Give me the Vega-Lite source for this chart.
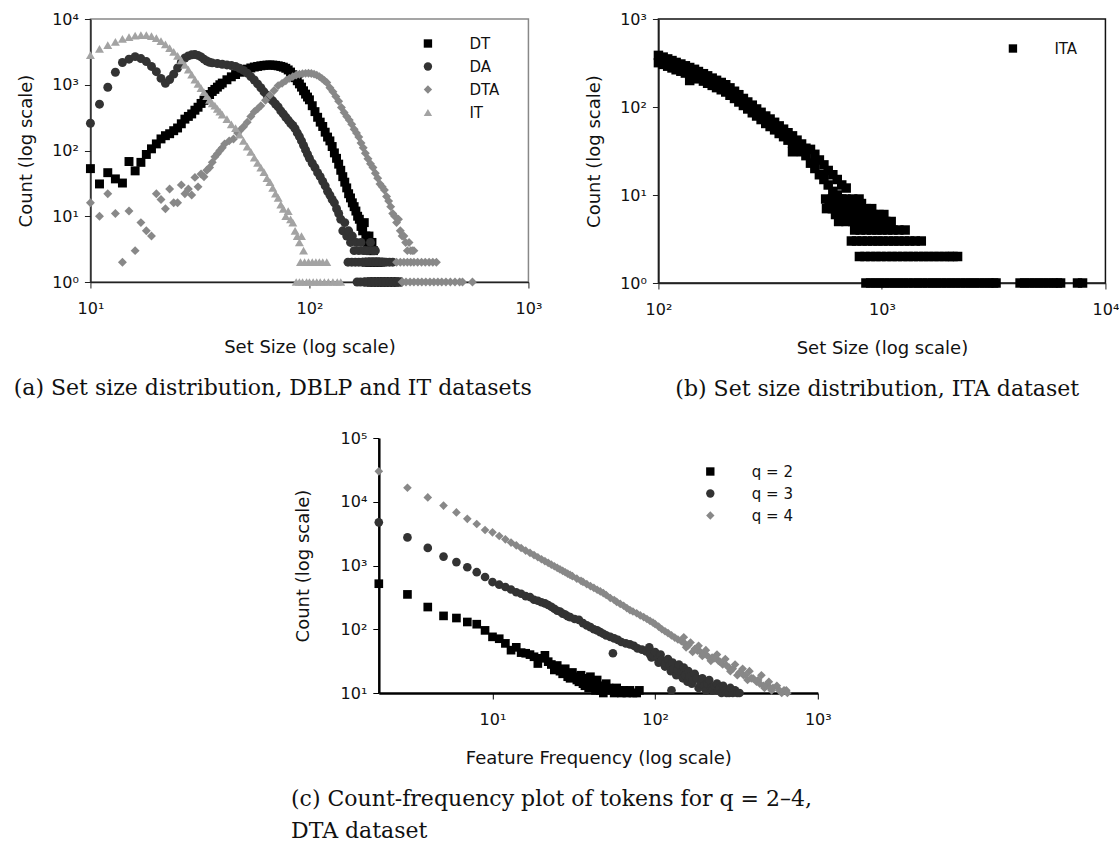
{
  "$schema": "https://vega.github.io/schema/vega-lite/v6.json",
  "padding": {"left": 12, "top": 10, "right": 0, "bottom": 0},
  "config": {
    "font": "DejaVu Sans",
    "view": {"stroke": null},
    "axis": {"grid": false, "labelFont": "DejaVu Sans", "labelFontSize": 16, "labelColor": "#111", "titleFont": "DejaVu Sans", "titleFontSize": 18, "titleFontWeight": "normal", "titleColor": "#111", "domainColor": "#222", "domainWidth": 1.5, "tickColor": "#222", "tickSize": 6, "labelFlush": false, "labelOverlap": false},
    "axisX": {"labelPadding": 12, "titlePadding": 22},
    "axisY": {"labelPadding": 6, "titlePadding": 16},
    "legend": {"labelFont": "DejaVu Sans", "labelFontSize": 15, "labelColor": "#111", "symbolSize": 70, "padding": 0, "rowPadding": 7, "labelOffset": 34, "symbolStrokeWidth": 0},
    "title": {"font": "DejaVu Serif", "fontSize": 22, "fontWeight": "normal", "color": "#111", "orient": "bottom", "offset": 22}
  },
  "datasets": {
    "dsA": [
      {"s":"DT","x":10,"c":53},{"s":"DT","x":11,"c":31},{"s":"DT","x":12,"c":46},{"s":"DT","x":13,"c":37},{"s":"DT","x":14,"c":32},{"s":"DT","x":15,"c":68},{"s":"DT","x":16,"c":49},{"s":"DT","x":17,"c":66},{"s":"DT","x":18,"c":87},{"s":"DT","x":19,"c":106},{"s":"DT","x":20,"c":126},{"s":"DT","x":21,"c":150},{"s":"DT","x":22,"c":168},{"s":"DT","x":23,"c":180},{"s":"DT","x":24,"c":200},{"s":"DT","x":25,"c":220},{"s":"DT","x":26,"c":255},{"s":"DT","x":27,"c":300},{"s":"DT","x":28,"c":330},{"s":"DT","x":29,"c":360},{"s":"DT","x":30,"c":410},{"s":"DT","x":31,"c":455},{"s":"DT","x":32,"c":520},{"s":"DT","x":33,"c":580},{"s":"DT","x":34,"c":640},{"s":"DT","x":35,"c":710},{"s":"DT","x":36,"c":790},{"s":"DT","x":37,"c":850},{"s":"DT","x":38,"c":920},{"s":"DT","x":39,"c":1000},{"s":"DT","x":40,"c":1060},{"s":"DT","x":42,"c":1190},{"s":"DT","x":44,"c":1320},{"s":"DT","x":46,"c":1430},{"s":"DT","x":48,"c":1550},{"s":"DT","x":50,"c":1650},{"s":"DT","x":52,"c":1730},{"s":"DT","x":54,"c":1800},{"s":"DT","x":56,"c":1860},{"s":"DT","x":58,"c":1900},{"s":"DT","x":60,"c":1940},{"s":"DT","x":62,"c":1970},{"s":"DT","x":64,"c":1990},{"s":"DT","x":66,"c":2000},{"s":"DT","x":68,"c":1990},{"s":"DT","x":70,"c":1970},{"s":"DT","x":72,"c":1940},{"s":"DT","x":74,"c":1900},{"s":"DT","x":76,"c":1850},{"s":"DT","x":78,"c":1780},{"s":"DT","x":80,"c":1680},{"s":"DT","x":82,"c":1560},{"s":"DT","x":84,"c":1420},{"s":"DT","x":86,"c":1280},{"s":"DT","x":88,"c":1150},{"s":"DT","x":90,"c":1030},{"s":"DT","x":92,"c":920},{"s":"DT","x":94,"c":810},{"s":"DT","x":96,"c":720},{"s":"DT","x":98,"c":650},{"s":"DT","x":100,"c":590},{"s":"DT","x":103,"c":480},{"s":"DT","x":106,"c":390},{"s":"DT","x":109,"c":320},{"s":"DT","x":112,"c":270},{"s":"DT","x":115,"c":232},{"s":"DT","x":118,"c":190},{"s":"DT","x":121,"c":160},{"s":"DT","x":124,"c":140},{"s":"DT","x":127,"c":115},{"s":"DT","x":130,"c":92},{"s":"DT","x":133,"c":76},{"s":"DT","x":136,"c":62},{"s":"DT","x":139,"c":50},{"s":"DT","x":142,"c":40},{"s":"DT","x":145,"c":33},{"s":"DT","x":148,"c":27},{"s":"DT","x":151,"c":22},{"s":"DT","x":154,"c":19},{"s":"DT","x":157,"c":16},{"s":"DT","x":160,"c":14},{"s":"DT","x":163,"c":12},{"s":"DT","x":166,"c":10},{"s":"DT","x":169,"c":9},{"s":"DT","x":172,"c":7},{"s":"DT","x":175,"c":6},{"s":"DT","x":178,"c":8},{"s":"DT","x":181,"c":5},{"s":"DT","x":184,"c":4},{"s":"DT","x":187,"c":5},{"s":"DT","x":190,"c":3},{"s":"DT","x":193,"c":4},{"s":"DT","x":196,"c":3},{"s":"DT","x":182,"c":2},{"s":"DT","x":188,"c":2},{"s":"DT","x":194,"c":2},{"s":"DT","x":200,"c":2},{"s":"DT","x":206,"c":2},{"s":"DT","x":212,"c":2},{"s":"DT","x":185,"c":1},{"s":"DT","x":192,"c":1},{"s":"DT","x":199,"c":1},{"s":"DT","x":206,"c":1},{"s":"DT","x":213,"c":1},{"s":"DT","x":220,"c":1},{"s":"DT","x":228,"c":1},{"s":"DT","x":236,"c":1},{"s":"DT","x":245,"c":1},{"s":"DT","x":254,"c":1},
      {"s":"DA","x":10,"c":260},{"s":"DA","x":11,"c":506},{"s":"DA","x":12,"c":915},{"s":"DA","x":13,"c":1550},{"s":"DA","x":14,"c":2180},{"s":"DA","x":15,"c":2450},{"s":"DA","x":16,"c":2680},{"s":"DA","x":17,"c":2500},{"s":"DA","x":18,"c":2250},{"s":"DA","x":19,"c":1900},{"s":"DA","x":20,"c":1580},{"s":"DA","x":21,"c":1250},{"s":"DA","x":22,"c":1050},{"s":"DA","x":23,"c":1200},{"s":"DA","x":24,"c":1450},{"s":"DA","x":25,"c":1800},{"s":"DA","x":26,"c":2200},{"s":"DA","x":27,"c":2550},{"s":"DA","x":28,"c":2750},{"s":"DA","x":29,"c":2850},{"s":"DA","x":30,"c":2880},{"s":"DA","x":31,"c":2800},{"s":"DA","x":32,"c":2650},{"s":"DA","x":33,"c":2450},{"s":"DA","x":34,"c":2300},{"s":"DA","x":35,"c":2200},{"s":"DA","x":36,"c":2150},{"s":"DA","x":38,"c":2100},{"s":"DA","x":40,"c":2050},{"s":"DA","x":42,"c":2000},{"s":"DA","x":44,"c":1960},{"s":"DA","x":46,"c":1900},{"s":"DA","x":48,"c":1780},{"s":"DA","x":50,"c":1650},{"s":"DA","x":52,"c":1500},{"s":"DA","x":54,"c":1330},{"s":"DA","x":56,"c":1180},{"s":"DA","x":58,"c":1030},{"s":"DA","x":60,"c":900},{"s":"DA","x":62,"c":780},{"s":"DA","x":64,"c":690},{"s":"DA","x":66,"c":620},{"s":"DA","x":68,"c":570},{"s":"DA","x":70,"c":510},{"s":"DA","x":72,"c":460},{"s":"DA","x":74,"c":400},{"s":"DA","x":76,"c":360},{"s":"DA","x":78,"c":320},{"s":"DA","x":80,"c":290},{"s":"DA","x":82,"c":260},{"s":"DA","x":84,"c":240},{"s":"DA","x":86,"c":215},{"s":"DA","x":88,"c":185},{"s":"DA","x":90,"c":163},{"s":"DA","x":92,"c":140},{"s":"DA","x":94,"c":120},{"s":"DA","x":96,"c":102},{"s":"DA","x":98,"c":88},{"s":"DA","x":100,"c":76},{"s":"DA","x":103,"c":64},{"s":"DA","x":106,"c":55},{"s":"DA","x":109,"c":46},{"s":"DA","x":112,"c":40},{"s":"DA","x":115,"c":34},{"s":"DA","x":118,"c":29},{"s":"DA","x":121,"c":24},{"s":"DA","x":124,"c":21},{"s":"DA","x":127,"c":18},{"s":"DA","x":130,"c":16},{"s":"DA","x":133,"c":13},{"s":"DA","x":136,"c":11},{"s":"DA","x":139,"c":9},{"s":"DA","x":142,"c":6},{"s":"DA","x":145,"c":8},{"s":"DA","x":148,"c":5},{"s":"DA","x":151,"c":6},{"s":"DA","x":154,"c":4},{"s":"DA","x":157,"c":5},{"s":"DA","x":160,"c":3},{"s":"DA","x":164,"c":4},{"s":"DA","x":168,"c":3},{"s":"DA","x":172,"c":4},{"s":"DA","x":176,"c":3},{"s":"DA","x":180,"c":3},{"s":"DA","x":185,"c":3},{"s":"DA","x":190,"c":4},{"s":"DA","x":195,"c":3},{"s":"DA","x":200,"c":3},{"s":"DA","x":150,"c":2},{"s":"DA","x":156,"c":2},{"s":"DA","x":162,"c":2},{"s":"DA","x":168,"c":2},{"s":"DA","x":174,"c":2},{"s":"DA","x":180,"c":2},{"s":"DA","x":187,"c":2},{"s":"DA","x":194,"c":2},{"s":"DA","x":201,"c":2},{"s":"DA","x":208,"c":2},{"s":"DA","x":216,"c":2},{"s":"DA","x":224,"c":2},{"s":"DA","x":232,"c":2},{"s":"DA","x":240,"c":2},{"s":"DA","x":165,"c":1},{"s":"DA","x":171,"c":1},{"s":"DA","x":178,"c":1},{"s":"DA","x":185,"c":1},{"s":"DA","x":192,"c":1},{"s":"DA","x":199,"c":1},{"s":"DA","x":207,"c":1},{"s":"DA","x":215,"c":1},{"s":"DA","x":223,"c":1},{"s":"DA","x":232,"c":1},{"s":"DA","x":241,"c":1},{"s":"DA","x":250,"c":1},{"s":"DA","x":260,"c":1},
      {"s":"DTA","x":10,"c":16},{"s":"DTA","x":11,"c":10},{"s":"DTA","x":12,"c":22},{"s":"DTA","x":13,"c":11},{"s":"DTA","x":14,"c":2},{"s":"DTA","x":15,"c":12},{"s":"DTA","x":16,"c":3},{"s":"DTA","x":17,"c":8},{"s":"DTA","x":18,"c":6},{"s":"DTA","x":19,"c":5},{"s":"DTA","x":20,"c":22},{"s":"DTA","x":21,"c":18},{"s":"DTA","x":22,"c":13},{"s":"DTA","x":23,"c":26},{"s":"DTA","x":24,"c":16},{"s":"DTA","x":25,"c":16},{"s":"DTA","x":26,"c":30},{"s":"DTA","x":27,"c":22},{"s":"DTA","x":28,"c":26},{"s":"DTA","x":29,"c":21},{"s":"DTA","x":30,"c":39},{"s":"DTA","x":31,"c":28},{"s":"DTA","x":32,"c":44},{"s":"DTA","x":33,"c":40},{"s":"DTA","x":34,"c":50},{"s":"DTA","x":35,"c":55},{"s":"DTA","x":36,"c":66},{"s":"DTA","x":37,"c":80},{"s":"DTA","x":38,"c":89},{"s":"DTA","x":39,"c":100},{"s":"DTA","x":40,"c":110},{"s":"DTA","x":41,"c":126},{"s":"DTA","x":43,"c":140},{"s":"DTA","x":45,"c":150},{"s":"DTA","x":47,"c":185},{"s":"DTA","x":48,"c":200},{"s":"DTA","x":50,"c":230},{"s":"DTA","x":52,"c":270},{"s":"DTA","x":54,"c":330},{"s":"DTA","x":56,"c":390},{"s":"DTA","x":58,"c":430},{"s":"DTA","x":60,"c":480},{"s":"DTA","x":63,"c":580},{"s":"DTA","x":66,"c":690},{"s":"DTA","x":69,"c":820},{"s":"DTA","x":72,"c":970},{"s":"DTA","x":75,"c":1050},{"s":"DTA","x":78,"c":1150},{"s":"DTA","x":81,"c":1250},{"s":"DTA","x":84,"c":1330},{"s":"DTA","x":87,"c":1400},{"s":"DTA","x":90,"c":1440},{"s":"DTA","x":93,"c":1470},{"s":"DTA","x":96,"c":1490},{"s":"DTA","x":99,"c":1500},{"s":"DTA","x":102,"c":1480},{"s":"DTA","x":105,"c":1450},{"s":"DTA","x":108,"c":1400},{"s":"DTA","x":111,"c":1330},{"s":"DTA","x":114,"c":1250},{"s":"DTA","x":117,"c":1160},{"s":"DTA","x":120,"c":1080},{"s":"DTA","x":124,"c":900},{"s":"DTA","x":128,"c":780},{"s":"DTA","x":132,"c":660},{"s":"DTA","x":136,"c":560},{"s":"DTA","x":140,"c":450},{"s":"DTA","x":144,"c":380},{"s":"DTA","x":148,"c":330},{"s":"DTA","x":152,"c":290},{"s":"DTA","x":156,"c":250},{"s":"DTA","x":160,"c":210},{"s":"DTA","x":164,"c":184},{"s":"DTA","x":168,"c":160},{"s":"DTA","x":172,"c":130},{"s":"DTA","x":176,"c":110},{"s":"DTA","x":180,"c":91},{"s":"DTA","x":185,"c":75},{"s":"DTA","x":190,"c":63},{"s":"DTA","x":195,"c":55},{"s":"DTA","x":200,"c":45},{"s":"DTA","x":205,"c":38},{"s":"DTA","x":210,"c":31},{"s":"DTA","x":215,"c":28},{"s":"DTA","x":220,"c":25},{"s":"DTA","x":225,"c":20},{"s":"DTA","x":230,"c":17},{"s":"DTA","x":235,"c":14},{"s":"DTA","x":240,"c":11},{"s":"DTA","x":245,"c":10},{"s":"DTA","x":250,"c":8},{"s":"DTA","x":255,"c":9},{"s":"DTA","x":260,"c":6},{"s":"DTA","x":265,"c":5},{"s":"DTA","x":270,"c":5},{"s":"DTA","x":275,"c":4},{"s":"DTA","x":280,"c":3},{"s":"DTA","x":285,"c":4},{"s":"DTA","x":290,"c":3},{"s":"DTA","x":295,"c":3},{"s":"DTA","x":300,"c":3},{"s":"DTA","x":250,"c":2},{"s":"DTA","x":260,"c":2},{"s":"DTA","x":270,"c":2},{"s":"DTA","x":280,"c":2},{"s":"DTA","x":290,"c":2},{"s":"DTA","x":300,"c":2},{"s":"DTA","x":312,"c":2},{"s":"DTA","x":325,"c":2},{"s":"DTA","x":338,"c":2},{"s":"DTA","x":352,"c":2},{"s":"DTA","x":366,"c":2},{"s":"DTA","x":380,"c":2},{"s":"DTA","x":265,"c":1},{"s":"DTA","x":276,"c":1},{"s":"DTA","x":288,"c":1},{"s":"DTA","x":300,"c":1},{"s":"DTA","x":313,"c":1},{"s":"DTA","x":326,"c":1},{"s":"DTA","x":340,"c":1},{"s":"DTA","x":355,"c":1},{"s":"DTA","x":370,"c":1},{"s":"DTA","x":386,"c":1},{"s":"DTA","x":402,"c":1},{"s":"DTA","x":420,"c":1},{"s":"DTA","x":440,"c":1},{"s":"DTA","x":462,"c":1},{"s":"DTA","x":485,"c":1},{"s":"DTA","x":500,"c":1},{"s":"DTA","x":555,"c":1},
      {"s":"IT","x":10,"c":2830},{"s":"IT","x":11,"c":3500},{"s":"IT","x":12,"c":4000},{"s":"IT","x":13,"c":4500},{"s":"IT","x":14,"c":5000},{"s":"IT","x":15,"c":5300},{"s":"IT","x":16,"c":5600},{"s":"IT","x":17,"c":5700},{"s":"IT","x":18,"c":5700},{"s":"IT","x":19,"c":5500},{"s":"IT","x":20,"c":5100},{"s":"IT","x":21,"c":4600},{"s":"IT","x":22,"c":4100},{"s":"IT","x":23,"c":3600},{"s":"IT","x":24,"c":3150},{"s":"IT","x":25,"c":2750},{"s":"IT","x":26,"c":2350},{"s":"IT","x":27,"c":2000},{"s":"IT","x":28,"c":1700},{"s":"IT","x":29,"c":1420},{"s":"IT","x":30,"c":1200},{"s":"IT","x":31,"c":1030},{"s":"IT","x":32,"c":890},{"s":"IT","x":33,"c":770},{"s":"IT","x":34,"c":670},{"s":"IT","x":35,"c":590},{"s":"IT","x":36,"c":520},{"s":"IT","x":37,"c":480},{"s":"IT","x":38,"c":430},{"s":"IT","x":39,"c":390},{"s":"IT","x":40,"c":350},{"s":"IT","x":42,"c":300},{"s":"IT","x":44,"c":250},{"s":"IT","x":46,"c":218},{"s":"IT","x":48,"c":175},{"s":"IT","x":50,"c":140},{"s":"IT","x":52,"c":115},{"s":"IT","x":54,"c":95},{"s":"IT","x":56,"c":78},{"s":"IT","x":58,"c":65},{"s":"IT","x":60,"c":55},{"s":"IT","x":62,"c":47},{"s":"IT","x":64,"c":38},{"s":"IT","x":66,"c":33},{"s":"IT","x":68,"c":27},{"s":"IT","x":70,"c":22},{"s":"IT","x":72,"c":19},{"s":"IT","x":74,"c":15},{"s":"IT","x":76,"c":13},{"s":"IT","x":78,"c":10},{"s":"IT","x":80,"c":12},{"s":"IT","x":82,"c":9},{"s":"IT","x":84,"c":8},{"s":"IT","x":86,"c":6},{"s":"IT","x":88,"c":5},{"s":"IT","x":90,"c":4},{"s":"IT","x":92,"c":5},{"s":"IT","x":94,"c":3},{"s":"IT","x":91,"c":2},{"s":"IT","x":95,"c":2},{"s":"IT","x":99,"c":2},{"s":"IT","x":103,"c":2},{"s":"IT","x":107,"c":2},{"s":"IT","x":111,"c":2},{"s":"IT","x":115,"c":2},{"s":"IT","x":120,"c":2},{"s":"IT","x":87,"c":1},{"s":"IT","x":90,"c":1},{"s":"IT","x":93,"c":1},{"s":"IT","x":97,"c":1},{"s":"IT","x":100,"c":1},{"s":"IT","x":104,"c":1},{"s":"IT","x":108,"c":1},{"s":"IT","x":112,"c":1},{"s":"IT","x":117,"c":1},{"s":"IT","x":122,"c":1},{"s":"IT","x":128,"c":1},{"s":"IT","x":134,"c":1},{"s":"IT","x":139,"c":1}
    ],
    "dsB": [
      {"s":"ITA","x":100,"c":386},{"s":"ITA","x":100,"c":319},{"s":"ITA","x":105,"c":369},{"s":"ITA","x":105,"c":305},{"s":"ITA","x":110,"c":352},{"s":"ITA","x":110,"c":291},{"s":"ITA","x":115,"c":337},{"s":"ITA","x":115,"c":278},{"s":"ITA","x":120,"c":321},{"s":"ITA","x":120,"c":265},{"s":"ITA","x":126,"c":308},{"s":"ITA","x":126,"c":255},{"s":"ITA","x":132,"c":294},{"s":"ITA","x":132,"c":243},{"s":"ITA","x":138,"c":281},{"s":"ITA","x":138,"c":232},{"s":"ITA","x":138,"c":200},{"s":"ITA","x":145,"c":268},{"s":"ITA","x":145,"c":222},{"s":"ITA","x":151,"c":253},{"s":"ITA","x":151,"c":209},{"s":"ITA","x":159,"c":239},{"s":"ITA","x":159,"c":197},{"s":"ITA","x":166,"c":226},{"s":"ITA","x":166,"c":186},{"s":"ITA","x":174,"c":213},{"s":"ITA","x":174,"c":176},{"s":"ITA","x":182,"c":201},{"s":"ITA","x":182,"c":166},{"s":"ITA","x":191,"c":190},{"s":"ITA","x":191,"c":157},{"s":"ITA","x":200,"c":179},{"s":"ITA","x":200,"c":148},{"s":"ITA","x":209,"c":165},{"s":"ITA","x":209,"c":136},{"s":"ITA","x":219,"c":151},{"s":"ITA","x":219,"c":125},{"s":"ITA","x":229,"c":138},{"s":"ITA","x":229,"c":114},{"s":"ITA","x":240,"c":125},{"s":"ITA","x":240,"c":104},{"s":"ITA","x":251,"c":114},{"s":"ITA","x":251,"c":95},{"s":"ITA","x":263,"c":105},{"s":"ITA","x":263,"c":86},{"s":"ITA","x":275,"c":95},{"s":"ITA","x":275,"c":79},{"s":"ITA","x":288,"c":87},{"s":"ITA","x":288,"c":72},{"s":"ITA","x":302,"c":79},{"s":"ITA","x":302,"c":65},{"s":"ITA","x":316,"c":73},{"s":"ITA","x":316,"c":60},{"s":"ITA","x":331,"c":67},{"s":"ITA","x":331,"c":55},{"s":"ITA","x":347,"c":61},{"s":"ITA","x":347,"c":50},{"s":"ITA","x":363,"c":56},{"s":"ITA","x":363,"c":46},{"s":"ITA","x":380,"c":51},{"s":"ITA","x":380,"c":42},{"s":"ITA","x":398,"c":47},{"s":"ITA","x":398,"c":39},{"s":"ITA","x":398,"c":31},{"s":"ITA","x":417,"c":42},{"s":"ITA","x":417,"c":35},{"s":"ITA","x":437,"c":38},{"s":"ITA","x":437,"c":31},{"s":"ITA","x":457,"c":34},{"s":"ITA","x":457,"c":28},{"s":"ITA","x":479,"c":33},{"s":"ITA","x":479,"c":23},{"s":"ITA","x":501,"c":29},{"s":"ITA","x":501,"c":20},{"s":"ITA","x":525,"c":25},{"s":"ITA","x":525,"c":17},{"s":"ITA","x":550,"c":22},{"s":"ITA","x":550,"c":15},{"s":"ITA","x":575,"c":19},{"s":"ITA","x":575,"c":13},{"s":"ITA","x":603,"c":17},{"s":"ITA","x":603,"c":11},{"s":"ITA","x":631,"c":15},{"s":"ITA","x":631,"c":10},{"s":"ITA","x":661,"c":13},{"s":"ITA","x":661,"c":9},{"s":"ITA","x":692,"c":12},{"s":"ITA","x":692,"c":8},
      {"s":"ITA","x":560,"c":9},{"s":"ITA","x":600,"c":9},{"s":"ITA","x":640,"c":9},{"s":"ITA","x":690,"c":9},{"s":"ITA","x":740,"c":9},{"s":"ITA","x":790,"c":9},
      {"s":"ITA","x":580,"c":8},{"s":"ITA","x":620,"c":8},{"s":"ITA","x":660,"c":8},{"s":"ITA","x":710,"c":8},{"s":"ITA","x":760,"c":8},{"s":"ITA","x":810,"c":8},
      {"s":"ITA","x":565,"c":7},{"s":"ITA","x":600,"c":7},{"s":"ITA","x":650,"c":7},{"s":"ITA","x":700,"c":7},{"s":"ITA","x":750,"c":7},{"s":"ITA","x":800,"c":7},{"s":"ITA","x":850,"c":7},{"s":"ITA","x":900,"c":7},
      {"s":"ITA","x":620,"c":6},{"s":"ITA","x":670,"c":6},{"s":"ITA","x":720,"c":6},{"s":"ITA","x":770,"c":6},{"s":"ITA","x":820,"c":6},{"s":"ITA","x":870,"c":6},{"s":"ITA","x":920,"c":6},{"s":"ITA","x":970,"c":6},{"s":"ITA","x":1020,"c":6},
      {"s":"ITA","x":640,"c":5},{"s":"ITA","x":690,"c":5},{"s":"ITA","x":740,"c":5},{"s":"ITA","x":790,"c":5},{"s":"ITA","x":840,"c":5},{"s":"ITA","x":890,"c":5},{"s":"ITA","x":940,"c":5},{"s":"ITA","x":990,"c":5},{"s":"ITA","x":1040,"c":5},{"s":"ITA","x":1100,"c":5},
      {"s":"ITA","x":755,"c":4},{"s":"ITA","x":800,"c":4},{"s":"ITA","x":850,"c":4},{"s":"ITA","x":900,"c":4},{"s":"ITA","x":950,"c":4},{"s":"ITA","x":1000,"c":4},{"s":"ITA","x":1060,"c":4},{"s":"ITA","x":1120,"c":4},{"s":"ITA","x":1190,"c":4},{"s":"ITA","x":1270,"c":4},
      {"s":"ITA","x":730,"c":3},{"s":"ITA","x":770,"c":3},{"s":"ITA","x":815,"c":3},{"s":"ITA","x":860,"c":3},{"s":"ITA","x":910,"c":3},{"s":"ITA","x":960,"c":3},{"s":"ITA","x":1010,"c":3},{"s":"ITA","x":1070,"c":3},{"s":"ITA","x":1130,"c":3},{"s":"ITA","x":1190,"c":3},{"s":"ITA","x":1260,"c":3},{"s":"ITA","x":1330,"c":3},{"s":"ITA","x":1410,"c":3},{"s":"ITA","x":1500,"c":3},
      {"s":"ITA","x":793,"c":2},{"s":"ITA","x":840,"c":2},{"s":"ITA","x":890,"c":2},{"s":"ITA","x":940,"c":2},{"s":"ITA","x":990,"c":2},{"s":"ITA","x":1050,"c":2},{"s":"ITA","x":1110,"c":2},{"s":"ITA","x":1170,"c":2},{"s":"ITA","x":1240,"c":2},{"s":"ITA","x":1310,"c":2},{"s":"ITA","x":1380,"c":2},{"s":"ITA","x":1460,"c":2},{"s":"ITA","x":1540,"c":2},{"s":"ITA","x":1620,"c":2},{"s":"ITA","x":1710,"c":2},{"s":"ITA","x":1800,"c":2},{"s":"ITA","x":1900,"c":2},{"s":"ITA","x":2000,"c":2},{"s":"ITA","x":2080,"c":2},{"s":"ITA","x":2180,"c":2},
      {"s":"ITA","x":848,"c":1},{"s":"ITA","x":890,"c":1},{"s":"ITA","x":935,"c":1},{"s":"ITA","x":980,"c":1},{"s":"ITA","x":1030,"c":1},{"s":"ITA","x":1080,"c":1},{"s":"ITA","x":1135,"c":1},{"s":"ITA","x":1190,"c":1},{"s":"ITA","x":1250,"c":1},{"s":"ITA","x":1310,"c":1},{"s":"ITA","x":1380,"c":1},{"s":"ITA","x":1450,"c":1},{"s":"ITA","x":1520,"c":1},{"s":"ITA","x":1600,"c":1},{"s":"ITA","x":1680,"c":1},{"s":"ITA","x":1760,"c":1},{"s":"ITA","x":1850,"c":1},{"s":"ITA","x":1940,"c":1},{"s":"ITA","x":2040,"c":1},{"s":"ITA","x":2140,"c":1},{"s":"ITA","x":2250,"c":1},{"s":"ITA","x":2360,"c":1},{"s":"ITA","x":2480,"c":1},{"s":"ITA","x":2600,"c":1},{"s":"ITA","x":2730,"c":1},{"s":"ITA","x":2870,"c":1},{"s":"ITA","x":3010,"c":1},{"s":"ITA","x":3160,"c":1},{"s":"ITA","x":3240,"c":1},{"s":"ITA","x":4150,"c":1},{"s":"ITA","x":4350,"c":1},{"s":"ITA","x":4570,"c":1},{"s":"ITA","x":4800,"c":1},{"s":"ITA","x":5040,"c":1},{"s":"ITA","x":5290,"c":1},{"s":"ITA","x":5550,"c":1},{"s":"ITA","x":5830,"c":1},{"s":"ITA","x":6100,"c":1},{"s":"ITA","x":6300,"c":1},{"s":"ITA","x":7500,"c":1},{"s":"ITA","x":7900,"c":1}
    ],
    "dsC": [
      {"q":"q = 2","f":2,"c":518},{"q":"q = 2","f":3,"c":352},{"q":"q = 2","f":4,"c":223},{"q":"q = 2","f":5,"c":162},{"q":"q = 2","f":6,"c":150},{"q":"q = 2","f":7,"c":130},{"q":"q = 2","f":8,"c":120},{"q":"q = 2","f":9,"c":96},{"q":"q = 2","f":10,"c":76},{"q":"q = 2","f":11,"c":71},{"q":"q = 2","f":12,"c":60},{"q":"q = 2","f":13,"c":47},{"q":"q = 2","f":14,"c":52},{"q":"q = 2","f":15,"c":43},{"q":"q = 2","f":16,"c":42},{"q":"q = 2","f":17,"c":40},{"q":"q = 2","f":18,"c":37},{"q":"q = 2","f":19,"c":29},{"q":"q = 2","f":20,"c":35},{"q":"q = 2","f":21,"c":39},{"q":"q = 2","f":22,"c":31},{"q":"q = 2","f":23,"c":28},{"q":"q = 2","f":24,"c":23},{"q":"q = 2","f":25,"c":27},{"q":"q = 2","f":26,"c":22},{"q":"q = 2","f":27,"c":20},{"q":"q = 2","f":28,"c":24},{"q":"q = 2","f":29,"c":18},{"q":"q = 2","f":30,"c":17},{"q":"q = 2","f":31,"c":21},{"q":"q = 2","f":32,"c":18},{"q":"q = 2","f":33,"c":16},{"q":"q = 2","f":34,"c":15},{"q":"q = 2","f":35,"c":19},{"q":"q = 2","f":36,"c":14},{"q":"q = 2","f":37,"c":13},{"q":"q = 2","f":38,"c":17},{"q":"q = 2","f":39,"c":12},{"q":"q = 2","f":40,"c":18},{"q":"q = 2","f":41,"c":13},{"q":"q = 2","f":42,"c":14},{"q":"q = 2","f":43,"c":11},{"q":"q = 2","f":44,"c":16},{"q":"q = 2","f":45,"c":12},{"q":"q = 2","f":46,"c":11},{"q":"q = 2","f":47,"c":13},{"q":"q = 2","f":48,"c":10},{"q":"q = 2","f":50,"c":14},{"q":"q = 2","f":52,"c":12},{"q":"q = 2","f":54,"c":11},{"q":"q = 2","f":56,"c":10},{"q":"q = 2","f":58,"c":12},{"q":"q = 2","f":60,"c":11},{"q":"q = 2","f":62,"c":10},{"q":"q = 2","f":64,"c":11},{"q":"q = 2","f":67,"c":10},{"q":"q = 2","f":70,"c":11},{"q":"q = 2","f":73,"c":10},{"q":"q = 2","f":77,"c":10},{"q":"q = 2","f":80,"c":11},
      {"q":"q = 3","f":2,"c":4750},{"q":"q = 3","f":3,"c":2760},{"q":"q = 3","f":4,"c":1890},{"q":"q = 3","f":5,"c":1380},{"q":"q = 3","f":6,"c":1130},{"q":"q = 3","f":7,"c":940},{"q":"q = 3","f":8,"c":785},{"q":"q = 3","f":9,"c":660},{"q":"q = 3","f":10,"c":550},{"q":"q = 3","f":11,"c":500},{"q":"q = 3","f":12,"c":460},{"q":"q = 3","f":13,"c":420},{"q":"q = 3","f":14,"c":380},{"q":"q = 3","f":15,"c":360},{"q":"q = 3","f":16,"c":330},{"q":"q = 3","f":17,"c":320},{"q":"q = 3","f":18,"c":290},{"q":"q = 3","f":19,"c":280},{"q":"q = 3","f":20,"c":265},{"q":"q = 3","f":21,"c":255},{"q":"q = 3","f":22,"c":240},{"q":"q = 3","f":23,"c":225},{"q":"q = 3","f":24,"c":210},{"q":"q = 3","f":25,"c":195},{"q":"q = 3","f":26,"c":190},{"q":"q = 3","f":27,"c":176},{"q":"q = 3","f":28,"c":170},{"q":"q = 3","f":29,"c":160},{"q":"q = 3","f":30,"c":155},{"q":"q = 3","f":32,"c":145},{"q":"q = 3","f":34,"c":140},{"q":"q = 3","f":36,"c":125},{"q":"q = 3","f":38,"c":115},{"q":"q = 3","f":40,"c":108},{"q":"q = 3","f":42,"c":100},{"q":"q = 3","f":44,"c":96},{"q":"q = 3","f":46,"c":90},{"q":"q = 3","f":48,"c":85},{"q":"q = 3","f":50,"c":80},{"q":"q = 3","f":53,"c":76},{"q":"q = 3","f":55,"c":42},{"q":"q = 3","f":56,"c":72},{"q":"q = 3","f":59,"c":68},{"q":"q = 3","f":62,"c":63},{"q":"q = 3","f":66,"c":60},{"q":"q = 3","f":70,"c":58},{"q":"q = 3","f":74,"c":55},{"q":"q = 3","f":78,"c":50},{"q":"q = 3","f":83,"c":48},{"q":"q = 3","f":88,"c":45},{"q":"q = 3","f":92,"c":52},{"q":"q = 3","f":93,"c":40},{"q":"q = 3","f":95,"c":36},{"q":"q = 3","f":98,"c":38},{"q":"q = 3","f":100,"c":44},{"q":"q = 3","f":104,"c":35},{"q":"q = 3","f":105,"c":30},{"q":"q = 3","f":108,"c":40},{"q":"q = 3","f":110,"c":33},{"q":"q = 3","f":115,"c":26},{"q":"q = 3","f":116,"c":30},{"q":"q = 3","f":120,"c":34},{"q":"q = 3","f":123,"c":27},{"q":"q = 3","f":125,"c":22},{"q":"q = 3","f":126,"c":11},{"q":"q = 3","f":128,"c":30},{"q":"q = 3","f":130,"c":24},{"q":"q = 3","f":135,"c":19},{"q":"q = 3","f":137,"c":23},{"q":"q = 3","f":140,"c":28},{"q":"q = 3","f":145,"c":21},{"q":"q = 3","f":148,"c":17},{"q":"q = 3","f":150,"c":25},{"q":"q = 3","f":153,"c":19},{"q":"q = 3","f":158,"c":15},{"q":"q = 3","f":160,"c":22},{"q":"q = 3","f":162,"c":18},{"q":"q = 3","f":168,"c":14},{"q":"q = 3","f":171,"c":16},{"q":"q = 3","f":175,"c":20},{"q":"q = 3","f":180,"c":17},{"q":"q = 3","f":185,"c":12},{"q":"q = 3","f":190,"c":14},{"q":"q = 3","f":195,"c":17},{"q":"q = 3","f":200,"c":13},{"q":"q = 3","f":205,"c":11},{"q":"q = 3","f":210,"c":14},{"q":"q = 3","f":215,"c":16},{"q":"q = 3","f":221,"c":12},{"q":"q = 3","f":225,"c":11},{"q":"q = 3","f":232,"c":13},{"q":"q = 3","f":240,"c":14},{"q":"q = 3","f":244,"c":11},{"q":"q = 3","f":250,"c":12},{"q":"q = 3","f":256,"c":10},{"q":"q = 3","f":262,"c":13},{"q":"q = 3","f":270,"c":11},{"q":"q = 3","f":275,"c":10},{"q":"q = 3","f":285,"c":10},{"q":"q = 3","f":290,"c":12},{"q":"q = 3","f":300,"c":10},{"q":"q = 3","f":310,"c":11},{"q":"q = 3","f":320,"c":10},{"q":"q = 3","f":330,"c":10},
      {"q":"q = 4","f":2,"c":30000},{"q":"q = 4","f":3,"c":16600},{"q":"q = 4","f":4,"c":11700},{"q":"q = 4","f":5,"c":8700},{"q":"q = 4","f":6,"c":6800},{"q":"q = 4","f":7,"c":5400},{"q":"q = 4","f":8,"c":4470},{"q":"q = 4","f":9,"c":3600},{"q":"q = 4","f":10,"c":3310},{"q":"q = 4","f":11,"c":2900},{"q":"q = 4","f":12,"c":2570},{"q":"q = 4","f":13,"c":2290},{"q":"q = 4","f":14,"c":2070},{"q":"q = 4","f":15,"c":1880},{"q":"q = 4","f":16,"c":1710},{"q":"q = 4","f":17,"c":1580},{"q":"q = 4","f":18,"c":1455},{"q":"q = 4","f":19,"c":1345},{"q":"q = 4","f":20,"c":1255},{"q":"q = 4","f":21,"c":1170},{"q":"q = 4","f":22,"c":1100},{"q":"q = 4","f":23,"c":1030},{"q":"q = 4","f":24,"c":973},{"q":"q = 4","f":25,"c":920},{"q":"q = 4","f":26,"c":869},{"q":"q = 4","f":27,"c":825},{"q":"q = 4","f":28,"c":783},{"q":"q = 4","f":29,"c":745},{"q":"q = 4","f":30,"c":711},{"q":"q = 4","f":31,"c":680},{"q":"q = 4","f":33,"c":622},{"q":"q = 4","f":35,"c":575},{"q":"q = 4","f":36,"c":552},{"q":"q = 4","f":38,"c":510},{"q":"q = 4","f":40,"c":475},{"q":"q = 4","f":42,"c":445},{"q":"q = 4","f":44,"c":417},{"q":"q = 4","f":46,"c":392},{"q":"q = 4","f":48,"c":369},{"q":"q = 4","f":50,"c":345},{"q":"q = 4","f":53,"c":309},{"q":"q = 4","f":56,"c":288},{"q":"q = 4","f":58,"c":269},{"q":"q = 4","f":61,"c":250},{"q":"q = 4","f":64,"c":234},{"q":"q = 4","f":67,"c":215},{"q":"q = 4","f":70,"c":200},{"q":"q = 4","f":73,"c":190},{"q":"q = 4","f":77,"c":178},{"q":"q = 4","f":81,"c":165},{"q":"q = 4","f":85,"c":155},{"q":"q = 4","f":89,"c":145},{"q":"q = 4","f":93,"c":135},{"q":"q = 4","f":97,"c":127},{"q":"q = 4","f":100,"c":120},{"q":"q = 4","f":105,"c":110},{"q":"q = 4","f":110,"c":100},{"q":"q = 4","f":115,"c":93},{"q":"q = 4","f":120,"c":87},{"q":"q = 4","f":126,"c":80},{"q":"q = 4","f":132,"c":74},{"q":"q = 4","f":138,"c":69},{"q":"q = 4","f":145,"c":65},{"q":"q = 4","f":150,"c":75},{"q":"q = 4","f":152,"c":60},{"q":"q = 4","f":155,"c":52},{"q":"q = 4","f":160,"c":56},{"q":"q = 4","f":165,"c":62},{"q":"q = 4","f":170,"c":44},{"q":"q = 4","f":175,"c":49},{"q":"q = 4","f":182,"c":46},{"q":"q = 4","f":185,"c":55},{"q":"q = 4","f":190,"c":44},{"q":"q = 4","f":195,"c":38},{"q":"q = 4","f":200,"c":41},{"q":"q = 4","f":205,"c":47},{"q":"q = 4","f":210,"c":38},{"q":"q = 4","f":220,"c":32},{"q":"q = 4","f":224,"c":36},{"q":"q = 4","f":230,"c":35},{"q":"q = 4","f":240,"c":40},{"q":"q = 4","f":245,"c":32},{"q":"q = 4","f":250,"c":31},{"q":"q = 4","f":260,"c":28},{"q":"q = 4","f":270,"c":34},{"q":"q = 4","f":275,"c":27},{"q":"q = 4","f":285,"c":25},{"q":"q = 4","f":290,"c":22},{"q":"q = 4","f":300,"c":24},{"q":"q = 4","f":310,"c":28},{"q":"q = 4","f":320,"c":19},{"q":"q = 4","f":330,"c":21},{"q":"q = 4","f":345,"c":24},{"q":"q = 4","f":350,"c":19},{"q":"q = 4","f":360,"c":19},{"q":"q = 4","f":370,"c":16},{"q":"q = 4","f":380,"c":22},{"q":"q = 4","f":390,"c":17},{"q":"q = 4","f":400,"c":17},{"q":"q = 4","f":420,"c":15},{"q":"q = 4","f":430,"c":16},{"q":"q = 4","f":440,"c":14},{"q":"q = 4","f":450,"c":19},{"q":"q = 4","f":465,"c":13},{"q":"q = 4","f":470,"c":12},{"q":"q = 4","f":480,"c":13},{"q":"q = 4","f":500,"c":15},{"q":"q = 4","f":510,"c":12},{"q":"q = 4","f":520,"c":11},{"q":"q = 4","f":530,"c":12},{"q":"q = 4","f":560,"c":13},{"q":"q = 4","f":580,"c":11},{"q":"q = 4","f":600,"c":10},{"q":"q = 4","f":620,"c":11},{"q":"q = 4","f":640,"c":11},{"q":"q = 4","f":650,"c":10}
    ]
  },
  "vconcat": [
    {
      "hconcat": [
        {
          "width": 438, "height": 263,
          "view": {"stroke": "#888", "strokeWidth": 1.5},
          "title": {"text": "(a) Set size distribution, DBLP and IT datasets", "anchor": "middle", "frame": "bounds", "dx": -7},
          "data": {"name": "dsA"},
          "mark": {"type": "point", "filled": true, "opacity": 1, "size": 80},
          "encoding": {
            "x": {"field": "x", "type": "quantitative", "scale": {"type": "log", "domain": [10, 1000], "nice": false}, "axis": {"values": [10, 100, 1000], "labelExpr": "'10' + ['⁰','¹','²','³','⁴','⁵'][round(log(datum.value)/LN10)]", "title": "Set Size (log scale)"}},
            "y": {"field": "c", "type": "quantitative", "scale": {"type": "log", "domain": [1, 10000], "nice": false}, "axis": {"values": [1, 10, 100, 1000, 10000], "labelExpr": "'10' + ['⁰','¹','²','³','⁴','⁵'][round(log(datum.value)/LN10)]", "title": "Count (log scale)"}},
            "shape": {"field": "s", "type": "nominal", "scale": {"domain": ["DT", "DA", "DTA", "IT"], "range": ["square", "circle", "diamond", "triangle-up"]}, "legend": {"title": null, "orient": "none", "legendX": 330, "legendY": 17}},
            "color": {"field": "s", "type": "nominal", "scale": {"domain": ["DT", "DA", "DTA", "IT"], "range": ["#000000", "#333333", "#888888", "#a3a3a3"]}, "legend": {"title": null, "orient": "none", "legendX": 330, "legendY": 17}}
          }
        },
        {
          "width": 447, "height": 264,
          "view": {"stroke": "#111", "strokeWidth": 1.5},
          "title": {"text": "(b) Set size distribution, ITA dataset", "anchor": "middle", "frame": "bounds", "dx": 25},
          "data": {"name": "dsB"},
          "mark": {"type": "point", "filled": true, "opacity": 1, "size": 90},
          "encoding": {
            "x": {"field": "x", "type": "quantitative", "scale": {"type": "log", "domain": [100, 10000], "nice": false}, "axis": {"values": [100, 1000, 10000], "labelExpr": "'10' + ['⁰','¹','²','³','⁴','⁵'][round(log(datum.value)/LN10)]", "title": "Set Size (log scale)"}},
            "y": {"field": "c", "type": "quantitative", "scale": {"type": "log", "domain": [1, 1000], "nice": false}, "axis": {"values": [1, 10, 100, 1000], "labelExpr": "'10' + ['⁰','¹','²','³','⁴','⁵'][round(log(datum.value)/LN10)]", "title": "Count (log scale)"}},
            "shape": {"field": "s", "type": "nominal", "scale": {"domain": ["ITA"], "range": ["square"]}, "legend": {"title": null, "orient": "none", "legendX": 347, "legendY": 22}},
            "color": {"field": "s", "type": "nominal", "scale": {"domain": ["ITA"], "range": ["#000000"]}, "legend": {"title": null, "orient": "none", "legendX": 347, "legendY": 22}}
          }
        }
      ],
      "spacing": 130,
      "bounds": "flush",
      "resolve": {"scale": {"color": "independent", "shape": "independent"}, "legend": {"color": "independent", "shape": "independent"}}
    },
    {
      "width": 439, "height": 255,
      "title": {"text": ["(c) Count-frequency plot of tokens for q = 2–4,", "DTA dataset"], "anchor": "start", "frame": "bounds", "dx": -3, "lineHeight": 32},
      "data": {"name": "dsC"},
      "mark": {"type": "point", "filled": true, "opacity": 1, "size": 75},
      "encoding": {
        "x": {"field": "f", "type": "quantitative", "scale": {"type": "log", "domain": [2, 1000], "nice": false}, "axis": {"values": [10, 100, 1000], "labelExpr": "'10' + ['⁰','¹','²','³','⁴','⁵'][round(log(datum.value)/LN10)]", "title": "Feature Frequency (log scale)", "domainColor": "#000", "domainWidth": 2.5, "tickColor": "#000"}},
        "y": {"field": "c", "type": "quantitative", "scale": {"type": "log", "domain": [10, 100000], "nice": false}, "axis": {"values": [10, 100, 1000, 10000, 100000], "labelExpr": "'10' + ['⁰','¹','²','³','⁴','⁵'][round(log(datum.value)/LN10)]", "title": "Count (log scale)", "titlePadding": 28, "domainColor": "#000", "domainWidth": 2.5, "tickColor": "#000"}},
        "shape": {"field": "q", "type": "nominal", "scale": {"domain": ["q = 2", "q = 3", "q = 4"], "range": ["square", "circle", "diamond"]}, "legend": {"title": null, "orient": "none", "legendX": 324, "legendY": 26, "rowPadding": 6}},
        "color": {"field": "q", "type": "nominal", "scale": {"domain": ["q = 2", "q = 3", "q = 4"], "range": ["#000000", "#333333", "#888888"]}, "legend": {"title": null, "orient": "none", "legendX": 324, "legendY": 26, "rowPadding": 6}}
      }
    }
  ],
  "spacing": 29,
  "center": true,
  "resolve": {"scale": {"color": "independent", "shape": "independent"}, "legend": {"color": "independent", "shape": "independent"}}
}
